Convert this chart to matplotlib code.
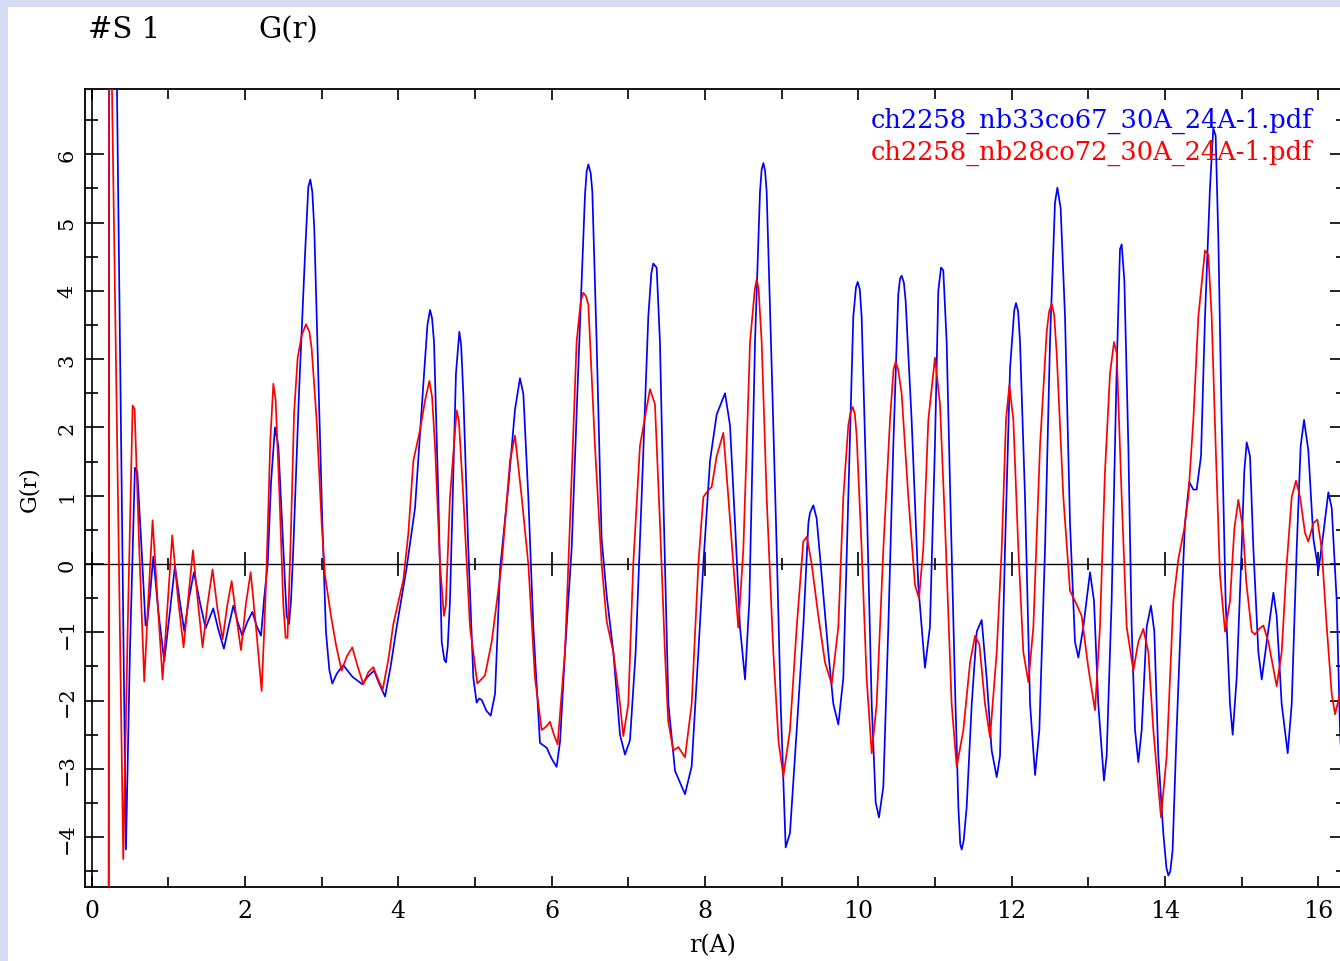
import matplotlib
matplotlib.use("Agg")
import matplotlib.pyplot as plt
from matplotlib.ticker import MultipleLocator, NullFormatter
from matplotlib.patches import Rectangle

plt.rcParams['font.family'] = ['DejaVu Serif']

# ---------------- data ----------------
label_blue = "ch2258_nb33co67_30A_24A-1.pdf"
label_red = "ch2258_nb28co72_30A_24A-1.pdf"

r_blue = [0.222, 0.228, 0.300, 0.447, 0.499, 0.564, 0.595, 0.651, 0.703, 0.720,
          0.760, 0.804, 0.869, 0.947, 1.021, 1.086, 1.150, 1.208, 1.270, 1.334,
          1.410, 1.486, 1.586, 1.650, 1.725, 1.790, 1.848, 1.905, 1.965, 2.030,
          2.096, 2.150, 2.209, 2.250, 2.296, 2.340, 2.391, 2.435, 2.500, 2.543,
          2.574, 2.600, 2.630, 2.704, 2.783, 2.826, 2.852, 2.878, 2.904, 2.956, 3.009,
          3.056, 3.100, 3.139, 3.200, 3.282, 3.400, 3.530, 3.600, 3.683, 3.750,
          3.827, 3.900, 3.979, 4.109, 4.218, 4.327, 4.380, 4.414, 4.440, 4.466,
          4.522, 4.566, 4.600, 4.622, 4.645, 4.674, 4.752, 4.796, 4.820, 4.848,
          4.913, 4.979, 5.022, 5.055, 5.088, 5.150, 5.205, 5.262, 5.327, 5.435,
          5.522, 5.587, 5.631, 5.696, 5.761, 5.848, 5.935, 6.000, 6.065, 6.110,
          6.174, 6.261, 6.348, 6.435, 6.457, 6.479, 6.510, 6.531, 6.587, 6.652, 6.718, 6.805,
          6.892, 6.957, 7.022, 7.096, 7.174, 7.261, 7.300, 7.326, 7.370, 7.413, 7.457,
          7.523, 7.610, 7.740, 7.827, 7.914, 7.979, 8.066, 8.153, 8.262, 8.327,
          8.392, 8.457, 8.523, 8.579, 8.653, 8.718, 8.740, 8.762, 8.785, 8.805, 8.871, 8.936,
          8.988, 9.053, 9.109, 9.197, 9.283, 9.349, 9.370, 9.414, 9.457, 9.522,
          9.609, 9.675, 9.740, 9.805, 9.870, 9.935, 9.970, 9.992, 10.020, 10.044, 10.109, 10.175,
          10.227, 10.270, 10.327, 10.392, 10.457, 10.522, 10.545, 10.566, 10.595, 10.618, 10.696, 10.783,
          10.870, 10.935, 11.000, 11.044, 11.079, 11.109, 11.153, 11.200, 11.262, 11.306,
          11.330, 11.349, 11.375, 11.414, 11.480, 11.545, 11.610, 11.675, 11.740, 11.806, 11.849, 11.914,
          11.980, 12.035, 12.058, 12.085, 12.110, 12.175, 12.241, 12.306, 12.362, 12.436, 12.501, 12.566,
          12.597, 12.640, 12.697, 12.762, 12.827, 12.871, 12.936, 13.023, 13.075, 13.131,
          13.205, 13.240, 13.305, 13.371, 13.414, 13.436, 13.471, 13.523, 13.566, 13.610,
          13.653, 13.697, 13.762, 13.818, 13.862, 13.914, 13.979, 14.020, 14.045, 14.070, 14.100, 14.153,
          14.218, 14.262, 14.318, 14.371, 14.414, 14.471, 14.523, 14.588, 14.631, 14.662,
          14.697, 14.740, 14.792, 14.849, 14.884, 14.936, 15.001, 15.035, 15.067, 15.110,
          15.154, 15.219, 15.263, 15.328, 15.415, 15.458, 15.523, 15.602, 15.654, 15.719,
          15.771, 15.815, 15.871, 15.937, 16.002, 16.067, 16.132, 16.176, 16.241, 16.284,
          16.330]
g_blue = [-6.00, 10.00, 9.80, -4.18, -1.29, 1.41, 1.35, 0.22, -0.90, -0.90,
          -0.46, 0.11, -0.69, -1.42, -0.69, -0.03, -0.55, -0.98, -0.50, -0.12,
          -0.55, -0.94, -0.65, -0.95, -1.24, -0.90, -0.61, -0.85, -1.05, -0.85,
          -0.70, -0.90, -1.05, -0.50, 0.00, 1.20, 2.00, 1.73, 0.22, -0.76,
          -0.88, -0.54, 0.22, 2.49, 4.53, 5.52, 5.63, 5.45, 4.91, 2.79, 0.60,
          -0.99, -1.55, -1.75, -1.60, -1.48, -1.65, -1.76, -1.65, -1.56, -1.75,
          -1.94, -1.50, -0.92, -0.05, 0.82, 2.64, 3.50, 3.72, 3.60, 3.25,
          0.98, -1.14, -1.40, -1.44, -1.20, -0.54, 2.79, 3.40, 3.20, 2.49,
          0.22, -1.67, -2.03, -1.97, -1.99, -2.15, -2.22, -1.90, -0.08, 1.13,
          2.26, 2.72, 2.49, 0.98, -0.92, -2.62, -2.69, -2.85, -2.97, -2.60,
          -1.29, 0.22, 2.87, 5.40, 5.75, 5.85, 5.72, 5.45, 3.25, 0.37, -0.46, -1.29,
          -2.50, -2.79, -2.58, -1.29, 0.98, 3.62, 4.25, 4.40, 4.34, 3.25, 0.98,
          -2.05, -3.03, -3.37, -2.96, -1.29, 0.00, 1.51, 2.19, 2.50, 2.03,
          0.60, -0.92, -1.69, -0.54, 3.25, 5.45, 5.78, 5.87, 5.75, 5.45, 2.87, 0.22,
          -2.05, -4.15, -3.94, -2.43, -0.92, 0.60, 0.75, 0.86, 0.67, -0.16,
          -1.29, -2.05, -2.35, -1.67, 0.98, 3.62, 4.05, 4.13, 4.02, 3.62, 0.98, -2.05,
          -3.49, -3.71, -3.26, -0.92, 1.73, 3.95, 4.18, 4.22, 4.12, 3.85, 2.11, -0.31,
          -1.52, -0.92, 1.73, 4.00, 4.34, 4.30, 3.25, 1.00, -1.80, -3.56,
          -4.10, -4.18, -4.05, -3.56, -2.05, -0.99, -0.82, -1.67, -2.73, -3.12, -2.81, 0.22,
          2.87, 3.72, 3.82, 3.70, 3.25, 0.98, -2.05, -3.09, -2.43, 0.22, 3.25, 5.29,
          5.51, 5.21, 3.62, 0.60, -1.14, -1.37, -0.92, -0.12, -0.54, -2.05,
          -3.17, -2.81, -0.54, 2.87, 4.61, 4.68, 4.15, 1.73, -0.92, -2.43,
          -2.90, -2.43, -0.92, -0.61, -0.99, -2.81, -3.94, -4.45, -4.56, -4.50, -4.20, -2.43,
          -0.54, 0.60, 1.20, 1.09, 1.09, 1.58, 3.62, 5.51, 6.38, 6.27,
          4.76, 2.11, -0.54, -2.05, -2.50, -1.67, 0.22, 1.35, 1.78, 1.58,
          0.22, -1.29, -1.69, -1.14, -0.42, -0.76, -2.05, -2.77, -2.05, 0.22,
          1.73, 2.11, 1.66, 0.37, -0.10, 0.45, 1.05, 0.82, -0.54, -2.43,
          -3.50]

r_red = [0.222, 0.228, 0.250, 0.412, 0.469, 0.534, 0.560, 0.621, 0.686, 0.738,
         0.795, 0.860, 0.925, 0.990, 1.051, 1.125, 1.199, 1.260, 1.321, 1.385,
         1.447, 1.510, 1.577, 1.640, 1.708, 1.770, 1.826, 1.890, 1.948, 2.010,
         2.074, 2.150, 2.217, 2.250, 2.283, 2.330, 2.370, 2.400, 2.450, 2.500,
         2.530, 2.555, 2.600, 2.640, 2.687, 2.740, 2.796, 2.840, 2.870, 2.935,
         3.000, 3.043, 3.122, 3.190, 3.260, 3.330, 3.400, 3.470, 3.543, 3.610,
         3.674, 3.740, 3.796, 3.870, 3.935, 4.066, 4.131, 4.196, 4.283, 4.350,
         4.405, 4.440, 4.479, 4.544, 4.596, 4.620, 4.674, 4.761, 4.790, 4.848,
         4.935, 5.031, 5.131, 5.218, 5.348, 5.457, 5.522, 5.609, 5.696, 5.783,
         5.870, 5.930, 5.978, 6.030, 6.078, 6.174, 6.239, 6.326, 6.380, 6.413, 6.445, 6.479,
         6.565, 6.652, 6.718, 6.805, 6.892, 6.935, 7.000, 7.065, 7.152, 7.283,
         7.348, 7.413, 7.478, 7.520, 7.588, 7.653, 7.740, 7.827, 7.914, 7.979,
         8.023, 8.088, 8.153, 8.240, 8.305, 8.370, 8.435, 8.501, 8.588, 8.650, 8.675, 8.700,
         8.740, 8.805, 8.892, 8.960, 9.023, 9.109, 9.197, 9.283, 9.330, 9.392,
         9.479, 9.566, 9.653, 9.740, 9.805, 9.870, 9.900, 9.927, 9.955, 9.979, 10.044, 10.109,
         10.175, 10.240, 10.327, 10.414, 10.460, 10.488, 10.520, 10.566, 10.653, 10.740, 10.792, 10.848,
         10.914, 11.000, 11.066, 11.131, 11.218, 11.284, 11.371, 11.458, 11.523, 11.580,
         11.653, 11.719, 11.806, 11.871, 11.927, 11.971, 12.023, 12.088, 12.153, 12.219,
         12.284, 12.371, 12.458, 12.490, 12.523, 12.555, 12.588, 12.675, 12.762, 12.827, 12.914, 13.001,
         13.088, 13.153, 13.218, 13.284, 13.336, 13.371, 13.436, 13.501, 13.588, 13.653,
         13.718, 13.784, 13.849, 13.949, 14.023, 14.110, 14.175, 14.253, 14.305, 14.371,
         14.436, 14.523, 14.566, 14.610, 14.662, 14.718, 14.784, 14.849, 14.906, 14.958,
         15.020, 15.060, 15.132, 15.176, 15.230, 15.284, 15.350, 15.458, 15.523, 15.589,
         15.654, 15.710, 15.763, 15.828, 15.871, 15.937, 15.989, 16.045, 16.111, 16.176,
         16.219, 16.284, 16.330]
g_red = [-6.00, 9.00, 8.10, -4.32, -0.99, 2.32, 2.27, 0.22, -1.72, -0.54,
         0.64, -0.55, -1.69, -0.60, 0.42, -0.50, -1.22, -0.50, 0.20, -0.55,
         -1.22, -0.60, -0.08, -0.65, -1.10, -0.60, -0.25, -0.80, -1.26, -0.60,
         -0.12, -1.00, -1.86, -1.00, 0.00, 1.80, 2.64, 2.40, 1.00, -0.60,
         -1.08, -1.08, 0.50, 2.20, 3.02, 3.35, 3.51, 3.40, 3.15, 2.10,
         0.60, -0.16, -0.76, -1.20, -1.56, -1.35, -1.22, -1.50, -1.76, -1.58,
         -1.51, -1.70, -1.84, -1.40, -0.88, -0.23, 0.45, 1.51, 1.96, 2.40,
         2.68, 2.45, 1.73, 0.00, -0.76, -0.60, 0.98, 2.25, 2.10, 0.98,
         -0.92, -1.75, -1.63, -1.14, 0.00, 1.51, 1.88, 0.98, 0.00, -1.67,
         -2.43, -2.38, -2.31, -2.50, -2.64, -1.29, 0.60, 3.25, 3.85, 3.97, 3.93, 3.80,
         1.73, 0.00, -0.84, -1.29, -2.05, -2.52, -2.05, 0.00, 1.73, 2.56,
         2.34, 0.60, -1.29, -2.30, -2.73, -2.68, -2.83, -2.05, 0.00, 0.98,
         1.05, 1.13, 1.58, 1.92, 0.98, 0.00, -0.93, 0.22, 3.25, 4.02, 4.17, 4.02,
         3.25, 0.98, -1.29, -2.60, -3.11, -2.43, -0.92, 0.33, 0.40, 0.00,
         -0.76, -1.44, -1.76, -0.92, 0.98, 2.03, 2.22, 2.30, 2.20, 1.88, 0.22, -1.67,
         -2.77, -2.05, 0.22, 2.11, 2.85, 2.96, 2.85, 2.49, 0.98, -0.31, -0.50, 0.22,
         2.11, 3.02, 2.34, 0.60, -2.05, -2.97, -2.43, -1.44, -1.05, -1.18,
         -2.05, -2.54, -1.29, 0.22, 2.11, 2.62, 2.11, 0.22, -1.29, -1.73,
         -0.92, 1.73, 3.40, 3.70, 3.81, 3.65, 3.09, 0.98, -0.39, -0.54, -0.76, -1.52,
         -2.14, -0.92, 1.35, 2.79, 3.25, 3.09, 0.98, -0.92, -1.56, -1.14,
         -0.95, -1.29, -2.43, -3.71, -2.81, -0.54, 0.07, 0.52, 0.98, 2.11,
         3.62, 4.59, 4.53, 3.62, 1.73, -0.16, -0.99, -0.54, 0.52, 0.94,
         0.50, -0.25, -0.99, -1.03, -0.95, -0.90, -1.14, -1.79, -1.29, 0.00,
         0.98, 1.22, 0.98, 0.45, 0.33, 0.60, 0.65, 0.22, -0.92, -1.90,
         -2.20, -1.90, -1.50]

x_major_ticks = [0, 2, 4, 6, 8, 10, 12, 14, 16]
title_left = "#S 1"
title_right = "G(r)"
x_label = "r(A)"
y_label = "G(r)"

# ---------------- figure ----------------
W, H = 1340, 962
fig = plt.figure(figsize=(W / 100, H / 100), dpi=100)
fig.patch.set_facecolor('white')
band = '#d8dcf2'
fig.patches.append(Rectangle((0, 1 - 8 / H), 1, 8 / H, transform=fig.transFigure,
                             facecolor=band, edgecolor='none', zorder=-5))
fig.patches.append(Rectangle((0, 0), 8 / W, 1, transform=fig.transFigure,
                             facecolor=band, edgecolor='none', zorder=-5))

ax_l, ax_r, ax_t, ax_b = 85, 1341, 90, 888
ax = fig.add_axes([ax_l / W, 1 - ax_b / H, (ax_r - ax_l) / W, (ax_b - ax_t) / H])

xmin, xmax = -0.087, 16.297
ymin, ymax = -4.729, 6.955
ax.set_xlim(xmin, xmax)
ax.set_ylim(ymin, ymax)

line_b, = ax.plot(r_blue, g_blue, color='#0000ff', lw=1.25, label=label_blue, zorder=3)
line_r, = ax.plot(r_red, g_red, color='#ff0000', lw=1.25, label=label_red, zorder=4)

ax.axhline(0, color='black', lw=1.0, zorder=2)
ax.axvline(0, color='black', lw=1.2, zorder=2)

for s in ax.spines.values():
    s.set_linewidth(1.3)

# x ticks
ax.set_xticks(x_major_ticks)
ax.xaxis.set_minor_locator(MultipleLocator(1))
ax.tick_params(axis='x', which='both', direction='in', top=True, bottom=True,
               width=1.2, labelsize=17, pad=9)
ax.tick_params(axis='x', which='major', length=8)
ax.tick_params(axis='x', which='minor', length=7)

# y ticks
ax.yaxis.set_major_locator(MultipleLocator(1))
ax.yaxis.set_minor_locator(MultipleLocator(0.5))
ax.tick_params(axis='y', which='both', direction='in', left=True, right=False,
               width=1.2, labelsize=15, pad=6)
ax.tick_params(axis='y', which='major', length=14)
ax.tick_params(axis='y', which='minor', length=9.5)
for lab in ax.get_yticklabels():
    lab.set_rotation(90)
    lab.set_va('center')

# right-hand ticks (shorter)
secy = ax.secondary_yaxis('right')
secy.yaxis.set_major_locator(MultipleLocator(1))
secy.yaxis.set_minor_locator(MultipleLocator(0.5))
secy.yaxis.set_major_formatter(NullFormatter())
secy.tick_params(axis='y', which='major', direction='in', length=8, width=1.2)
secy.tick_params(axis='y', which='minor', direction='in', length=3.5, width=1.2)
for s in secy.spines.values():
    s.set_visible(False)

# ticks crossing the zero line
y0 = (0 - ymin) / (ymax - ymin)
secx = ax.secondary_xaxis(y0)
secx.set_xticks(x_major_ticks)
secx.xaxis.set_minor_locator(MultipleLocator(1))
secx.xaxis.set_major_formatter(NullFormatter())
secx.tick_params(axis='x', which='major', direction='inout', length=17, width=1.2)
secx.tick_params(axis='x', which='minor', direction='inout', length=8.5, width=1.2)
for s in secx.spines.values():
    s.set_visible(False)

# labels
ax.set_xlabel(x_label, fontsize=17)
ax.xaxis.set_label_coords(0.5, -0.058)
ax.set_ylabel(y_label, fontsize=16)
ax.yaxis.set_label_coords(-0.036, 0.5)

# title texts
fig.text(88 / W, 1 - 30 / H, title_left, fontsize=21, ha='left', va='center')
fig.text(258 / W, 1 - 30 / H, title_right, fontsize=21, ha='left', va='center')

# legend (text only, coloured like the lines)
leg = ax.legend(handles=[line_b, line_r], loc='upper right',
                bbox_to_anchor=((1313 - ax_l) / (ax_r - ax_l), (ax_b - 108) / (ax_b - ax_t)),
                frameon=False, handlelength=0, handletextpad=0, borderpad=0,
                borderaxespad=0, labelspacing=0.2, fontsize=18.5, labelcolor='linecolor')
for h in leg.legend_handles:
    h.set_visible(False)

fig.savefig('out.png', dpi=100, facecolor=fig.get_facecolor())
